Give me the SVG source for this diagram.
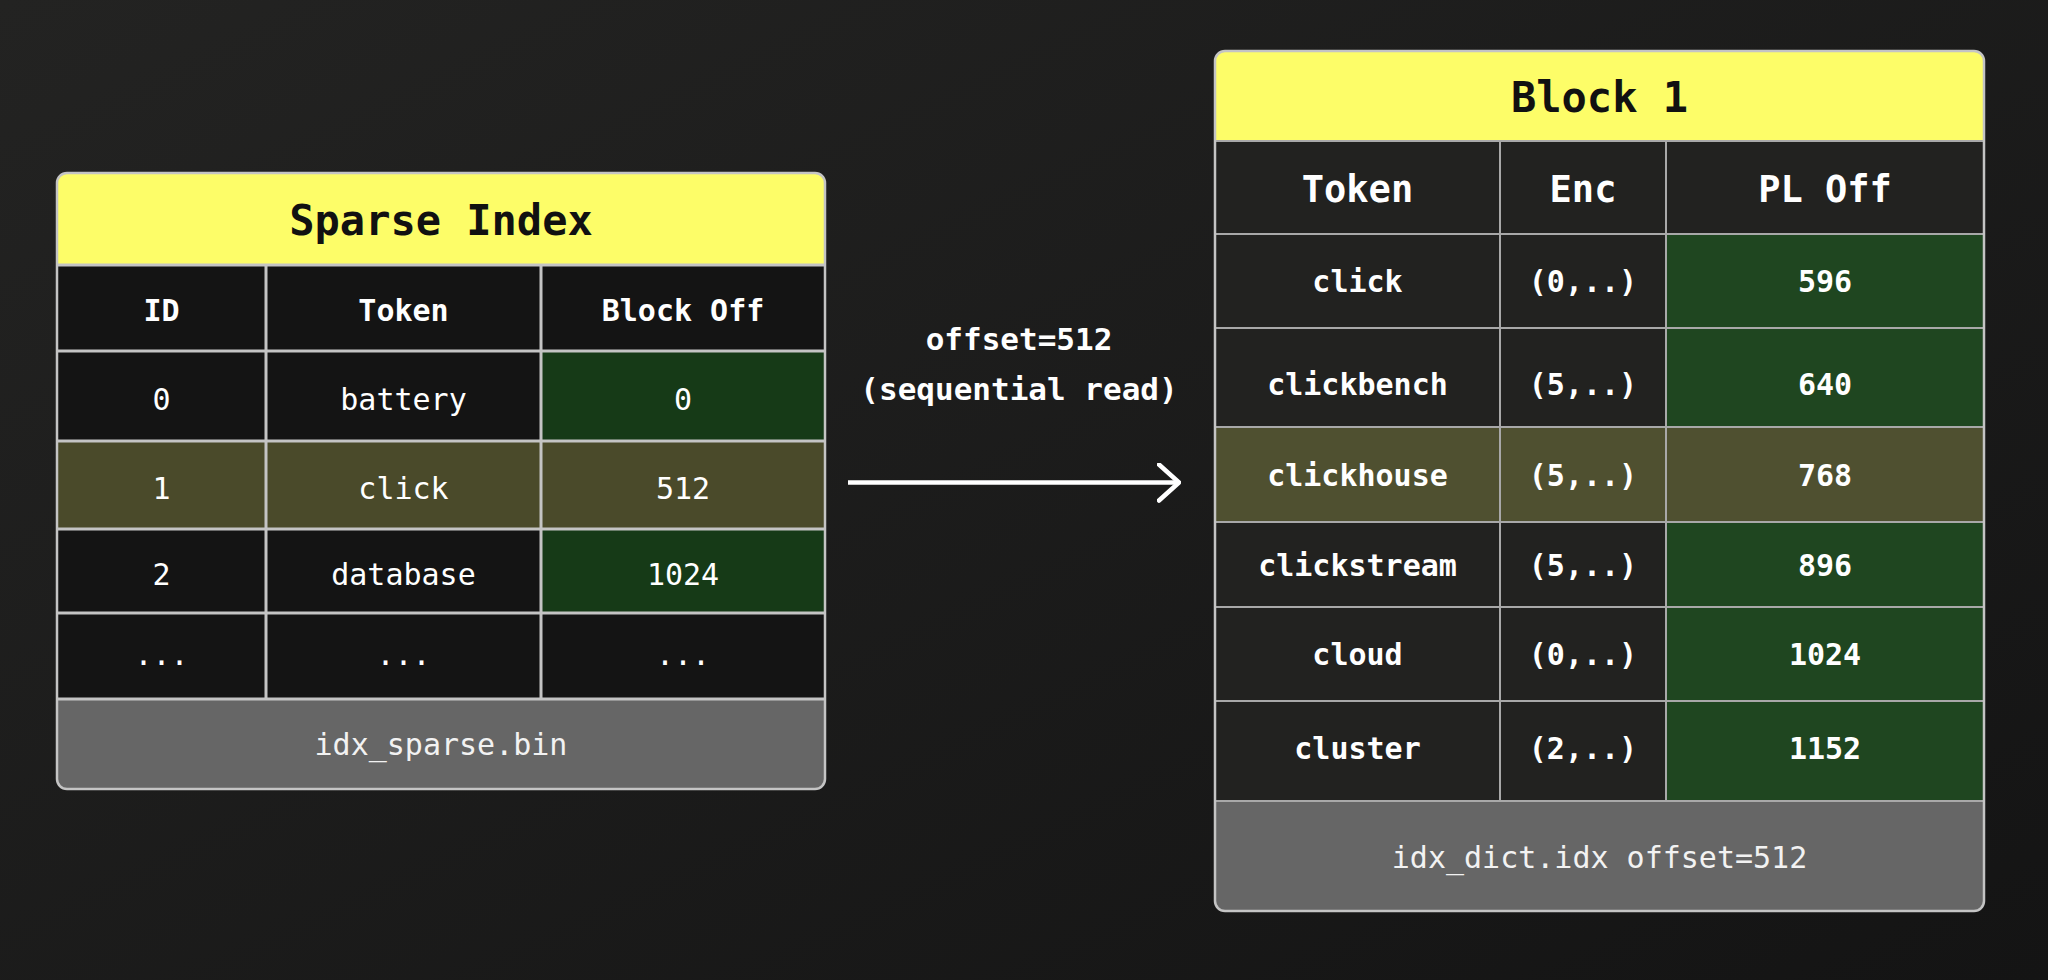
<svg xmlns="http://www.w3.org/2000/svg" width="2048" height="980" viewBox="0 0 2048 980">
  <defs>
    <linearGradient id="bg" x1="0" y1="0" x2="1" y2="1">
      <stop offset="0" stop-color="#232322"/>
      <stop offset="1" stop-color="#141414"/>
    </linearGradient>
    <clipPath id="clipL"><rect x="57" y="173" width="768" height="616" rx="10"/></clipPath>
    <clipPath id="clipR"><rect x="1215" y="51" width="769" height="860" rx="10"/></clipPath>
    <marker id="chev" viewBox="0 0 24 40" refX="22" refY="20" markerWidth="24" markerHeight="40" markerUnits="userSpaceOnUse" orient="auto">
      <polyline points="2,2 22,20 2,38" fill="none" stroke="#ffffff" stroke-width="4.5" stroke-linecap="round" stroke-linejoin="round"/>
    </marker>
    <style>
      .title { font-family: "DejaVu Sans Mono", "Liberation Mono", monospace; font-weight: bold; font-size: 42px; fill: #111111; text-anchor: middle; }
      .hdrL { font-family: "DejaVu Sans Mono", "Liberation Mono", monospace; font-weight: bold; font-size: 30px; fill: #ffffff; text-anchor: middle; }
      .hdrR { font-family: "DejaVu Sans Mono", "Liberation Mono", monospace; font-weight: bold; font-size: 37px; fill: #ffffff; text-anchor: middle; }
      .cellL { font-family: "DejaVu Sans Mono", "Liberation Mono", monospace; font-size: 30px; fill: #ffffff; text-anchor: middle; }
      .cellR { font-family: "DejaVu Sans Mono", "Liberation Mono", monospace; font-weight: bold; font-size: 30px; fill: #ffffff; text-anchor: middle; }
      .foot { font-family: "DejaVu Sans Mono", "Liberation Mono", monospace; font-size: 30px; fill: #f2f2f2; text-anchor: middle; }
      .lbl { font-family: "DejaVu Sans Mono", "Liberation Mono", monospace; font-weight: bold; font-size: 31px; fill: #ffffff; text-anchor: middle; }
      .gridL { stroke: #c4c4c4; stroke-width: 3; fill: none; }
      .gridR { stroke: #a8a8a8; stroke-width: 2; fill: none; }
      .yel { fill: #fdfd68; }
      .darkL { fill: #141414; }
      .darkR { fill: #222220; }
      .greenL { fill: #163a17; }
      .greenR { fill: #1f4620; }
      .oliveL { fill: #4a4a2a; }
      .oliveR { fill: #4f5030; }
      .footbg { fill: #666666; }
    </style>
  </defs>

  <rect x="0" y="0" width="2048" height="980" fill="url(#bg)"/>

  <!-- Sparse Index table -->
  <g id="sparse-index">
    <g clip-path="url(#clipL)">
      <rect class="yel" x="57" y="173" width="768" height="92"/>
      <rect class="darkL" x="57" y="265" width="768" height="434"/>
      <rect class="greenL" x="541" y="351" width="284" height="90"/>
      <rect class="oliveL" x="57" y="441" width="768" height="88"/>
      <rect class="greenL" x="541" y="529" width="284" height="84"/>
      <rect class="footbg" x="57" y="699" width="768" height="90"/>
    </g>
    <path class="gridL" d="M57 265H825 M57 351H825 M57 441H825 M57 529H825 M57 613H825 M57 699H825 M266 265V699 M541 265V699"/>
    <rect x="57" y="173" width="768" height="616" rx="10" fill="none" stroke="#c4c4c4" stroke-width="2.5"/>
    <text class="title" x="441" y="235">Sparse Index</text>
    <text class="hdrL" x="161.5" y="321">ID</text>
    <text class="hdrL" x="403.5" y="321">Token</text>
    <text class="hdrL" x="683" y="321">Block Off</text>
    <text class="cellL" x="161.5" y="410">0</text>
    <text class="cellL" x="403.5" y="410">battery</text>
    <text class="cellL" x="683" y="410">0</text>
    <text class="cellL" x="161.5" y="499">1</text>
    <text class="cellL" x="403.5" y="499">click</text>
    <text class="cellL" x="683" y="499">512</text>
    <text class="cellL" x="161.5" y="585">2</text>
    <text class="cellL" x="403.5" y="585">database</text>
    <text class="cellL" x="683" y="585">1024</text>
    <text class="cellL" x="161.5" y="665">...</text>
    <text class="cellL" x="403.5" y="665">...</text>
    <text class="cellL" x="683" y="665">...</text>
    <text class="foot" x="441" y="755">idx_sparse.bin</text>
  </g>

  <!-- Block 1 table -->
  <g id="block-1">
    <g clip-path="url(#clipR)">
      <rect class="yel" x="1215" y="51" width="769" height="90"/>
      <rect class="darkR" x="1215" y="141" width="769" height="660"/>
      <rect class="greenR" x="1666" y="234" width="318" height="94"/>
      <rect class="greenR" x="1666" y="328" width="318" height="99"/>
      <rect class="oliveR" x="1215" y="427" width="769" height="95"/>
      <rect class="greenR" x="1666" y="522" width="318" height="85"/>
      <rect class="greenR" x="1666" y="607" width="318" height="94"/>
      <rect class="greenR" x="1666" y="701" width="318" height="100"/>
      <rect class="footbg" x="1215" y="801" width="769" height="110"/>
    </g>
    <path class="gridR" d="M1215 141H1984 M1215 234H1984 M1215 328H1984 M1215 427H1984 M1215 522H1984 M1215 607H1984 M1215 701H1984 M1215 801H1984 M1500 141V801 M1666 141V801"/>
    <rect x="1215" y="51" width="769" height="860" rx="10" fill="none" stroke="#c4c4c4" stroke-width="2.5"/>
    <text class="title" x="1599.5" y="112">Block 1</text>
    <text class="hdrR" x="1357.5" y="202">Token</text>
    <text class="hdrR" x="1583" y="202">Enc</text>
    <text class="hdrR" x="1825" y="202">PL Off</text>
    <text class="cellR" x="1357.5" y="292">click</text>
    <text class="cellR" x="1583" y="292">(0,..)</text>
    <text class="cellR" x="1825" y="292">596</text>
    <text class="cellR" x="1357.5" y="395">clickbench</text>
    <text class="cellR" x="1583" y="395">(5,..)</text>
    <text class="cellR" x="1825" y="395">640</text>
    <text class="cellR" x="1357.5" y="486">clickhouse</text>
    <text class="cellR" x="1583" y="486">(5,..)</text>
    <text class="cellR" x="1825" y="486">768</text>
    <text class="cellR" x="1357.5" y="576">clickstream</text>
    <text class="cellR" x="1583" y="576">(5,..)</text>
    <text class="cellR" x="1825" y="576">896</text>
    <text class="cellR" x="1357.5" y="665">cloud</text>
    <text class="cellR" x="1583" y="665">(0,..)</text>
    <text class="cellR" x="1825" y="665">1024</text>
    <text class="cellR" x="1357.5" y="759">cluster</text>
    <text class="cellR" x="1583" y="759">(2,..)</text>
    <text class="cellR" x="1825" y="759">1152</text>
    <text class="foot" x="1599.5" y="868">idx_dict.idx offset=512</text>
  </g>

  <!-- Connectors -->
  <g id="connectors">
    <line x1="848" y1="482.5" x2="1179" y2="482.5" stroke="#ffffff" stroke-width="4.5" marker-end="url(#chev)"/>
    <text class="lbl" x="1019" y="350">offset=512</text>
    <text class="lbl" x="1019" y="400">(sequential read)</text>
  </g>
</svg>
